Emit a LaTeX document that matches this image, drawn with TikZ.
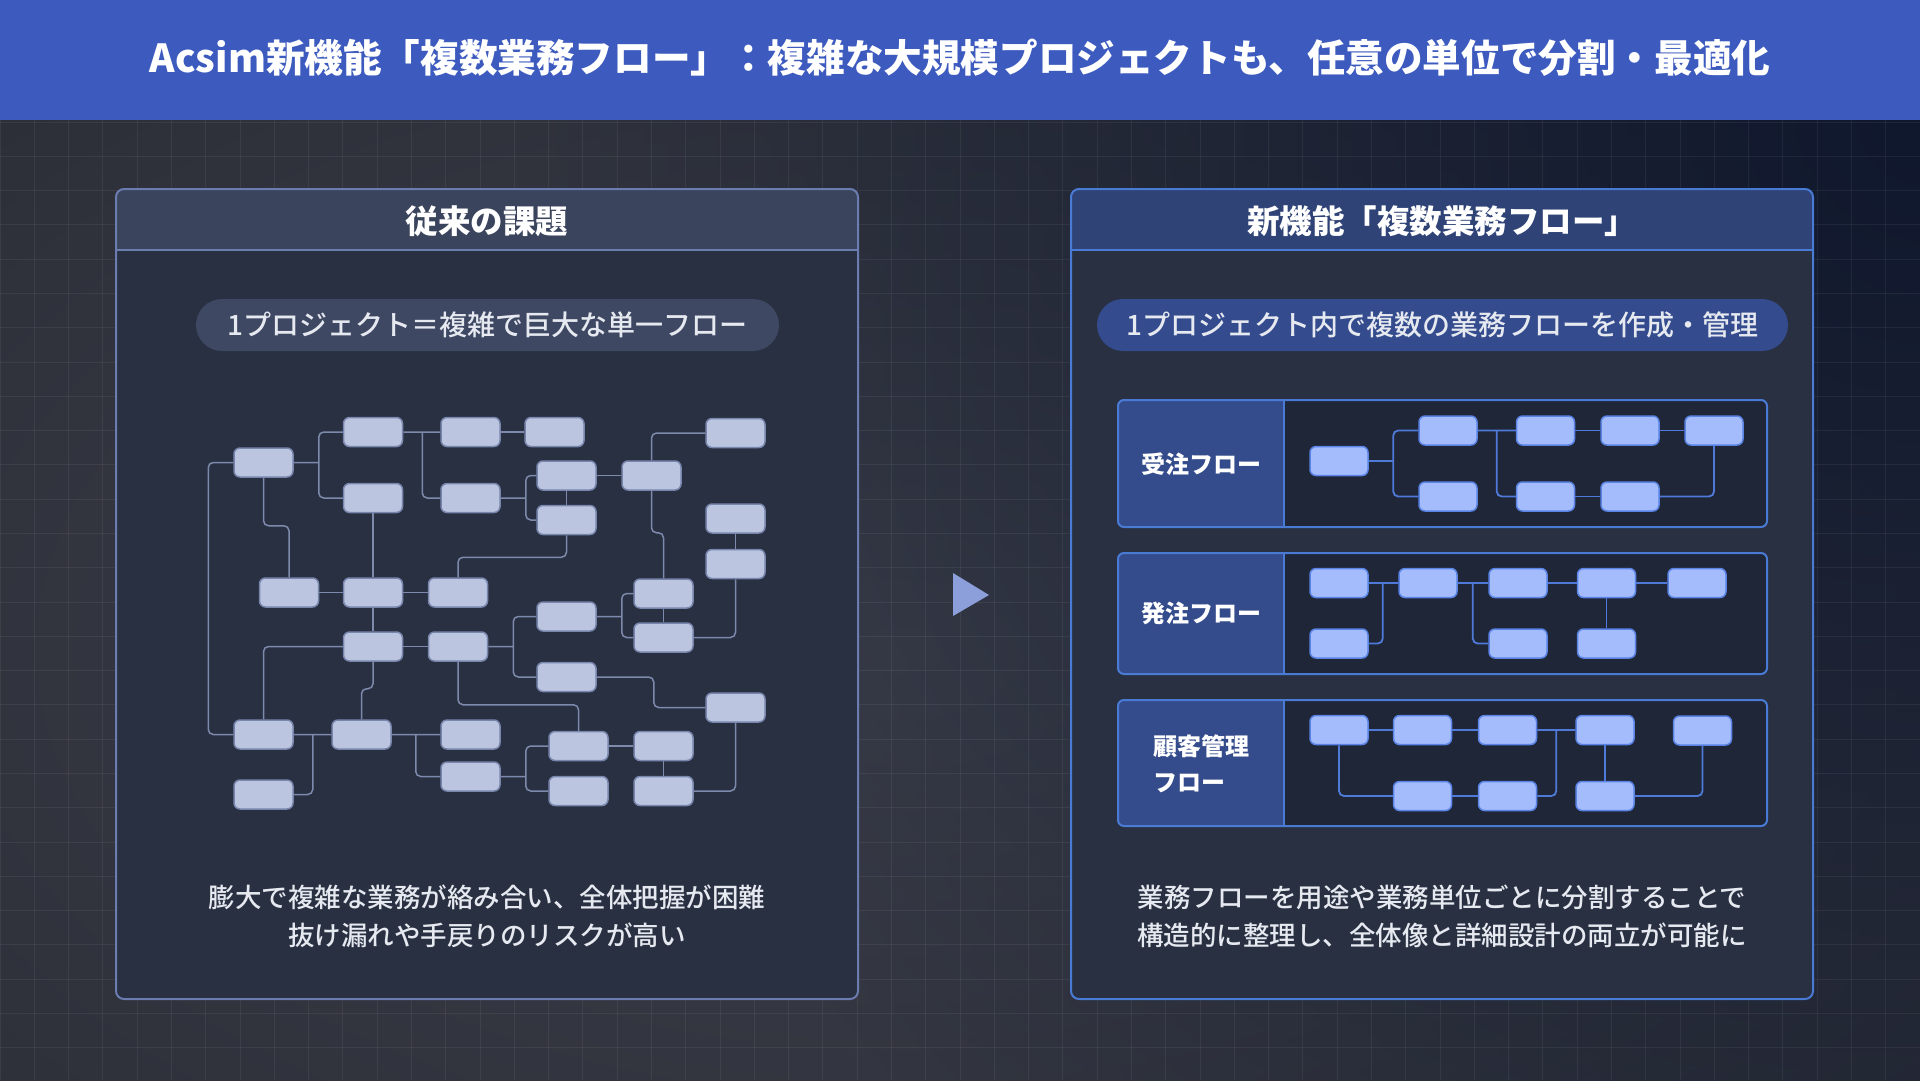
\documentclass[tikz,border=0pt]{standalone}
\usepackage{fontspec}
\setmainfont{Noto Sans CJK JP}
\IfFontExistsTF{Noto Sans CJK JP Medium}
  {\newfontfamily\medfont{Noto Sans CJK JP Medium}}
  {\newfontfamily\medfont{Noto Sans CJK JP}}
\usetikzlibrary{fadings}
\tikzfading[name=cornerfade, inner color=transparent!0, outer color=transparent!100]

\definecolor{bandblue}{HTML}{3D5BBF}
\definecolor{bgmid}{HTML}{3C3F4A}
\definecolor{bgedge}{HTML}{1A1C23}
\definecolor{navyglow}{HTML}{10182E}
\definecolor{greyborder}{HTML}{6A7CB0}
\definecolor{greyhead}{HTML}{3A445C}
\definecolor{panelbody}{HTML}{283042}
\definecolor{greypill}{HTML}{3E4863}
\definecolor{greyfill}{HTML}{BCC5DF}
\definecolor{greyedge}{HTML}{7885AD}
\definecolor{greyline}{HTML}{7E8AAB}
\definecolor{blueborder}{HTML}{4A7BD4}
\definecolor{bluehead}{HTML}{2F4377}
\definecolor{bluepill}{HTML}{344B8D}
\definecolor{lanelabel}{HTML}{354C8C}
\definecolor{lanebody}{HTML}{1F2638}
\definecolor{bluefill}{HTML}{A4BCFC}
\definecolor{blueedge}{HTML}{5A83E6}
\definecolor{blueline}{HTML}{4F7AD9}
\definecolor{arrowtint}{HTML}{8C9FDB}
\definecolor{softwhite}{HTML}{E6E9F0}

\begin{document}
\begin{tikzpicture}[x=1pt, y=-1pt,
    oldnode/.style={rectangle, rounded corners=6pt, draw=greyedge, fill=greyfill, line width=1.5pt, minimum width=59pt, minimum height=29pt, inner sep=0pt},
    newnode/.style={rectangle, rounded corners=6pt, draw=blueedge, fill=bluefill, line width=1.5pt, minimum width=58pt, minimum height=29pt, inner sep=0pt},
    oldwire/.style={draw=greyline, line width=1.5pt, rounded corners=5pt},
    newwire/.style={draw=blueline, line width=1.8pt, rounded corners=5pt},
    paneltitle/.style={text=white, font=\fontsize{32.5}{38}\selectfont\bfseries, inner sep=0pt},
    pilltext/.style={text=softwhite, font=\fontsize{28}{32}\selectfont\medfont, minimum height=52pt, rounded corners=26pt, inner sep=0pt},
    lanetext/.style={text=white, font=\fontsize{24}{36}\selectfont\bfseries, align=left, inner sep=0pt},
    notetext/.style={text=softwhite, font=\fontsize{26.5}{38}\selectfont\medfont, align=center, inner sep=0pt},
    gridline/.style={white, opacity=0.06, line width=1pt}
    ]
    \useasboundingbox (0,0) rectangle (1920,1080);
    % background
    \fill[bgedge] (0,0) rectangle (1920,1080);
    \shade[inner color=bgmid, outer color=bgedge] (-1900,-950) rectangle (3700,2250);
    \fill[navyglow, path fading=cornerfade] (1920,120) circle (1400);
    \foreach \gx in {0,...,56} {
      \draw[gridline] (\gx*34.2857,120) -- (\gx*34.2857,1080);
    }
    \foreach \gy in {0,...,28} {
      \draw[gridline] (0,122+\gy*34.2857) -- (1920,122+\gy*34.2857);
    }
    % header band
    \fill[bandblue] (0,0) rectangle (1920,120);
    \node [text=white, font=\fontsize{38.6}{44}\selectfont\bfseries, inner sep=0pt] (title) at (960,58)
      {Acsim新機能「複数業務フロー」：複雑な大規模プロジェクトも、任意の単位で分割・最適化};

    % left panel
    \begin{scope}
      \clip[rounded corners=8pt] (116,189) rectangle (858,999);
      \fill[panelbody] (116,189) rectangle (858,999);
      \fill[greyhead] (116,189) rectangle (858,250);
    \end{scope}
    \draw[greyborder, line width=2pt] (116,250) -- (858,250);
    \draw[greyborder, line width=2pt, rounded corners=8pt] (116,189) rectangle (858,999);
    \node [paneltitle] (oldtitle) at (487,221) {従来の課題};
    \node [pilltext, fill=greypill, minimum width=583pt] (oldtag) at (487.5,325) {1プロジェクト＝複雑で巨大な単一フロー};

    \node [oldnode] (m1) at (263.5,462.5) {};
    \node [oldnode] (m2) at (373,432) {};
    \node [oldnode] (m3) at (470.5,432) {};
    \node [oldnode] (m4) at (554.5,432) {};
    \node [oldnode] (m5) at (735.5,433) {};
    \node [oldnode] (m6) at (373,498) {};
    \node [oldnode] (m7) at (470.5,498) {};
    \node [oldnode] (m8) at (566.5,475.5) {};
    \node [oldnode] (m9) at (651.5,475.5) {};
    \node [oldnode] (m10) at (566.5,520) {};
    \node [oldnode] (m11) at (735.5,518.5) {};
    \node [oldnode] (m12) at (735.5,564) {};
    \node [oldnode] (m13) at (289,592.5) {};
    \node [oldnode] (m14) at (373,592.5) {};
    \node [oldnode] (m15) at (458,592.5) {};
    \node [oldnode] (m16) at (663.5,593.5) {};
    \node [oldnode] (m17) at (566.5,616.5) {};
    \node [oldnode] (m18) at (663.5,637.5) {};
    \node [oldnode] (m19) at (373,646.5) {};
    \node [oldnode] (m20) at (458,646.5) {};
    \node [oldnode] (m21) at (566.5,677) {};
    \node [oldnode] (m22) at (735.5,707.5) {};
    \node [oldnode] (m23) at (263.5,734.5) {};
    \node [oldnode] (m24) at (361.5,734.5) {};
    \node [oldnode] (m25) at (470.5,734.5) {};
    \node [oldnode] (m26) at (578.5,746) {};
    \node [oldnode] (m27) at (663.5,746) {};
    \node [oldnode] (m28) at (470.5,776.5) {};
    \node [oldnode] (m29) at (263.5,794.5) {};
    \node [oldnode] (m30) at (578.5,791) {};
    \node [oldnode] (m31) at (663.5,791) {};

    \draw [oldwire] (m1.east) -- ++(25,0) coordinate (m1r) (m1r) |- (m2.west) (m1r) |- (m6.west);
    \draw [oldwire] (m2.east) -- ++(19,0) coordinate (m2r) -- (m3.west) (m2r) |- (m7.west);
    \draw [oldwire] (m3) -- (m4);
    \draw [oldwire] (m7.east) -- ++(25,0) coordinate (m7r) (m7r) |- (m8.west) (m7r) |- (m10.west);
    \draw [oldwire] (m8) -- (m10);
    \draw [oldwire] (m8) -- (m9);
    \draw [oldwire] (m9.north) |- (m5.west);
    \draw [oldwire] (m9.south) -- ++(0,42) -| (m16.north);
    \draw [oldwire] (m1.south) -- ++(0,48) -| (m13.north);
    \draw [oldwire] (m6) -- (m14);
    \draw [oldwire] (m13) -- (m14);
    \draw [oldwire] (m14) -- (m15);
    \draw [oldwire] (m10.south) -- ++(0,22) -| (m15.north);
    \draw [oldwire] (m11) -- (m12);
    \draw [oldwire] (m12.south) |- (m18.east);
    \draw [oldwire] (m16) -- (m18);
    \draw [oldwire] (m17.east) -- ++(25,0) coordinate (m17r) (m17r) |- (m16.west) (m17r) |- (m18.west);
    \draw [oldwire] (m14) -- (m19);
    \draw [oldwire] (m19) -- (m20);
    \draw [oldwire] (m20.east) -- ++(25,0) coordinate (m20r) (m20r) |- (m17.west) (m20r) |- (m21.west);
    \draw [oldwire] (m19.west) -| (m23.north);
    \draw [oldwire] (m19.south) -- ++(0,27) -| (m24.north);
    \draw [oldwire] (m20.south) -- ++(0,43) -| (m26.north);
    \draw [oldwire] (m21.east) -- ++(57,0) |- (m22.west);
    \draw [oldwire] (m22.south) |- (m31.east);
    \draw [oldwire] (m1.west) -- ++(-25,0) |- (m23.west);
    \draw [oldwire] (m23.east) -- ++(19,0) coordinate (m23r) -- (m24.west) (m23r) |- (m29.east);
    \draw [oldwire] (m24.east) -- ++(24,0) coordinate (m24r) -- (m25.west) (m24r) |- (m28.west);
    \draw [oldwire] (m28.east) -- ++(25,0) coordinate (m28r) (m28r) |- (m26.west) (m28r) |- (m30.west);
    \draw [oldwire] (m26) -- (m27);
    \draw [oldwire] (m27) -- (m31);

    \node [notetext] (oldnote) at (487,916) {膨大で複雑な業務が絡み合い、全体把握が困難\\抜け漏れや手戻りのリスクが高い};

    % arrow between panels
    \fill[arrowtint] (953,573) -- (989,595) -- (953,616) -- cycle;

    % right panel
    \begin{scope}
      \clip[rounded corners=8pt] (1071,189) rectangle (1813,999);
      \fill[panelbody] (1071,189) rectangle (1813,999);
      \fill[bluehead] (1071,189) rectangle (1813,250);
    \end{scope}
    \draw[blueborder, line width=2pt] (1071,250) -- (1813,250);
    \draw[blueborder, line width=2pt, rounded corners=8pt] (1071,189) rectangle (1813,999);
    \node [paneltitle] (newtitle) at (1442,221) {新機能「複数業務フロー」};
    \node [pilltext, fill=bluepill, minimum width=691pt] (newtag) at (1442.5,325) {1プロジェクト内で複数の業務フローを作成・管理};

    % lanes
    \begin{scope}
      \clip[rounded corners=6pt] (1118,400) rectangle (1767,527);
      \fill[lanebody] (1118,400) rectangle (1767,527);
      \fill[lanelabel] (1118,400) rectangle (1284,527);
    \end{scope}
    \draw[blueborder, line width=2pt] (1284,400) -- (1284,527);
    \draw[blueborder, line width=2pt, rounded corners=6pt] (1118,400) rectangle (1767,527);
    \begin{scope}
      \clip[rounded corners=6pt] (1118,553) rectangle (1767,674);
      \fill[lanebody] (1118,553) rectangle (1767,674);
      \fill[lanelabel] (1118,553) rectangle (1284,674);
    \end{scope}
    \draw[blueborder, line width=2pt] (1284,553) -- (1284,674);
    \draw[blueborder, line width=2pt, rounded corners=6pt] (1118,553) rectangle (1767,674);
    \begin{scope}
      \clip[rounded corners=6pt] (1118,700) rectangle (1767,826);
      \fill[lanebody] (1118,700) rectangle (1767,826);
      \fill[lanelabel] (1118,700) rectangle (1284,826);
    \end{scope}
    \draw[blueborder, line width=2pt] (1284,700) -- (1284,826);
    \draw[blueborder, line width=2pt, rounded corners=6pt] (1118,700) rectangle (1767,826);

    \node [lanetext] (jlabel) at (1201,464) {受注フロー};
    \node [lanetext] (hlabel) at (1201,613.5) {発注フロー};
    \node [lanetext] (clabel) at (1201,764) {顧客管理\\フロー};

    % order flow
    \node [newnode] (j1) at (1339,461) {};
    \node [newnode] (j2) at (1448,430.5) {};
    \node [newnode] (j3) at (1448,496.5) {};
    \node [newnode] (j4) at (1545.5,430.5) {};
    \node [newnode] (j5) at (1630,430.5) {};
    \node [newnode] (j6) at (1714,430.5) {};
    \node [newnode] (j7) at (1545.5,496.5) {};
    \node [newnode] (j8) at (1630,496.5) {};

    \draw [newwire] (j1.east) -- ++(24.5,0) coordinate (j1r) (j1r) |- (j2.west) (j1r) |- (j3.west);
    \draw [newwire] (j2.east) -- ++(19,0) coordinate (j2r) -- (j4.west) (j2r) |- (j7.west);
    \draw [newwire] (j4) -- (j5);
    \draw [newwire] (j5) -- (j6);
    \draw [newwire] (j6.south) |- (j8.east);
    \draw [newwire] (j7) -- (j8);

    % purchase flow
    \node [newnode] (h1) at (1339,583) {};
    \node [newnode] (h2) at (1339,643.5) {};
    \node [newnode] (h3) at (1428,583) {};
    \node [newnode] (h4) at (1518,583) {};
    \node [newnode] (h5) at (1606.5,583) {};
    \node [newnode] (h6) at (1697,583) {};
    \node [newnode] (h7) at (1518,643.5) {};
    \node [newnode] (h8) at (1606.5,643.5) {};

    \draw [newwire] (h1.east) -- ++(14,0) coordinate (h1r) -- (h3.west) (h1r) |- (h2.east);
    \draw [newwire] (h3.east) -- ++(15,0) coordinate (h3r) -- (h4.west) (h3r) |- (h7.west);
    \draw [newwire] (h4) -- (h5);
    \draw [newwire] (h5) -- (h6);
    \draw [newwire] (h5) -- (h8);

    % customer flow
    \node [newnode] (c1) at (1339,730) {};
    \node [newnode] (c2) at (1422.5,730) {};
    \node [newnode] (c3) at (1507.5,730) {};
    \node [newnode] (c4) at (1605,730) {};
    \node [newnode] (c5) at (1702.5,730.5) {};
    \node [newnode] (c6) at (1422.5,796) {};
    \node [newnode] (c7) at (1507.5,796) {};
    \node [newnode] (c8) at (1605,796) {};

    \draw [newwire] (c1) -- (c2);
    \draw [newwire] (c2) -- (c3);
    \draw [newwire] (c3.east) -- ++(19,0) coordinate (c3r) -- (c4.west) (c3r) |- (c7.east);
    \draw [newwire] (c1.south) |- (c6.west);
    \draw [newwire] (c6) -- (c7);
    \draw [newwire] (c4) -- (c8);
    \draw [newwire] (c5.south) |- (c8.east);

    \node [notetext] (newnote) at (1442,916) {業務フローを用途や業務単位ごとに分割することで\\構造的に整理し、全体像と詳細設計の両立が可能に};
  \end{tikzpicture}
\end{document}
